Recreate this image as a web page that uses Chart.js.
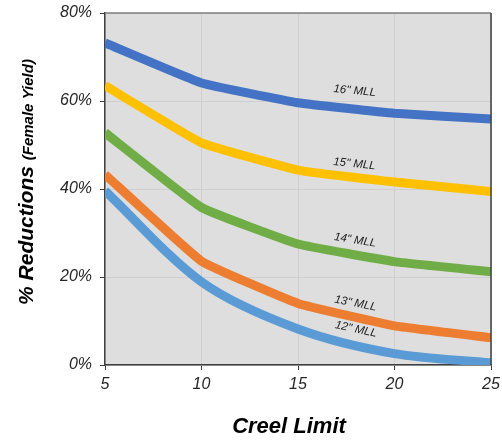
<!DOCTYPE html>
<html>
<head>
<meta charset="utf-8">
<script src="https://cdn.jsdelivr.net/npm/chart.js@4/dist/chart.umd.min.js"></script>
<style>
  html, body { margin: 0; padding: 0; background: #fff; }
  #chart { display: block; }
</style>
</head>
<body>
<canvas id="chart" width="502" height="441"></canvas>
<script>
// データ
const creelLimits = [5, 10, 15, 20, 25];
const mll16 = [73.2, 64.1, 59.6, 57.2, 55.9];
const mll15 = [63.5, 50.5, 44.3, 41.6, 39.4];
const mll14 = [52.8, 35.8, 27.5, 23.5, 21.2];
const mll13 = [43.3, 23.6, 14.0, 8.9, 6.2];
const mll12 = [39.6, 18.9, 8.2, 2.6, 0.5];
const yTicks = [0, 20, 40, 60, 80];

const FONT = '"Liberation Sans", Arial, sans-serif';

function toPoints(values) {
    return creelLimits.map((x, i) => ({ x: x, y: values[i] }));
}

// 系列設定
const seriesConfigs = [
    { label: '16" MLL', data: mll16, color: '#4472C4', tension: 0.1, labelOffset: 18 },
    { label: '15" MLL', data: mll15, color: '#FFC000', tension: 0.1, labelOffset: 13 },
    { label: '14" MLL', data: mll14, color: '#70AD47', tension: 0.1, labelOffset: 14 },
    { label: '13" MLL', data: mll13, color: '#ED7D31', tension: 0.1, labelOffset: 13 },
    { label: '12" MLL', data: mll12, color: '#5B9BD5', tension: 0.3, labelOffset: 14 }
];

// プロット背景と枠
const plotFrame = {
    id: 'plotFrame',
    beforeDraw(chart) {
        const a = chart.chartArea;
        const ctx = chart.ctx;
        ctx.save();
        ctx.fillStyle = '#DEDEDE';
        ctx.fillRect(a.left, a.top, a.right - a.left, a.bottom - a.top);
        ctx.restore();
    },
    afterDatasetsDraw(chart) {
        const a = chart.chartArea;
        const ctx = chart.ctx;
        ctx.save();
        ctx.strokeStyle = '#7F7F7F';
        ctx.lineWidth = 1.5;
        ctx.beginPath();
        ctx.moveTo(a.left, a.top);
        ctx.lineTo(a.right, a.top);
        ctx.stroke();
        ctx.strokeStyle = '#404040';
        ctx.beginPath();
        ctx.moveTo(a.right, a.top);
        ctx.lineTo(a.right, a.bottom);
        ctx.stroke();
        ctx.restore();
    }
};

// 系列ラベル（15と20の間）
const lineLabels = {
    id: 'lineLabels',
    afterDatasetsDraw(chart) {
        const ctx = chart.ctx;
        const xs = chart.scales.x;
        const ys = chart.scales.y;
        ctx.save();
        ctx.font = 'italic 11.5px ' + FONT;
        ctx.fillStyle = '#222';
        ctx.textAlign = 'center';
        ctx.textBaseline = 'middle';
        chart.data.datasets.forEach(ds => {
            const p0 = ds.data[2], p1 = ds.data[3];
            const x0 = xs.getPixelForValue(p0.x), y0 = ys.getPixelForValue(p0.y);
            const x1 = xs.getPixelForValue(p1.x), y1 = ys.getPixelForValue(p1.y);
            const t = 0.57;
            const px = x0 + (x1 - x0) * t;
            const py = y0 + (y1 - y0) * t;
            const ang = Math.atan2(y1 - y0, x1 - x0) * 0.85;
            ctx.save();
            ctx.translate(px + Math.sin(ang) * ds.labelOffset, py - Math.cos(ang) * ds.labelOffset);
            ctx.rotate(ang);
            ctx.fillText(ds.label, 0, 0);
            ctx.restore();
        });
        ctx.restore();
    }
};

// 軸タイトル
const axisTitles = {
    id: 'axisTitles',
    afterDraw(chart) {
        const ctx = chart.ctx;
        ctx.save();
        ctx.fillStyle = '#000';
        ctx.textBaseline = 'alphabetic';

        // X軸タイトル
        ctx.font = 'bold italic 22px ' + FONT;
        ctx.textAlign = 'center';
        ctx.fillText('Creel Limit', 289, 433);

        // Y軸タイトル
        const main = '% Reductions ';
        const sub = '(Female Yield)';
        const mainFont = 'bold italic 21px ' + FONT;
        const subFont = 'bold italic 15px ' + FONT;
        ctx.font = mainFont;
        const wMain = ctx.measureText(main).width;
        ctx.font = subFont;
        const wSub = ctx.measureText(sub).width;
        const total = wMain + wSub;
        ctx.translate(33, 182);
        ctx.rotate(-Math.PI / 2);
        ctx.textAlign = 'left';
        ctx.font = mainFont;
        ctx.fillText(main, -total / 2, 0);
        ctx.font = subFont;
        ctx.fillText(sub, -total / 2 + wMain, 0);
        ctx.restore();
    }
};

const chart = new Chart(document.getElementById('chart'), {
    type: 'line',
    data: {
        datasets: seriesConfigs.map(s => ({
            label: s.label,
            data: toPoints(s.data),
            borderColor: s.color,
            backgroundColor: s.color,
            borderWidth: 9,
            borderCapStyle: 'butt',
            borderJoinStyle: 'round',
            pointRadius: 0,
            fill: false,
            tension: s.tension,
            clip: 0,
            labelOffset: s.labelOffset
        }))
    },
    options: {
        responsive: false,
        animation: false,
        devicePixelRatio: 1,
        layout: { padding: { left: 0, right: 11, top: 13, bottom: 0 } },
        plugins: {
            legend: { display: false },
            tooltip: { enabled: false }
        },
        scales: {
            x: {
                type: 'linear',
                min: 5,
                max: 25,
                afterFit(scale) {
                    scale.height = 76;
                    scale.paddingLeft = 0;
                    scale.paddingRight = 0;
                },
                ticks: {
                    stepSize: 5,
                    padding: 5,
                    color: '#262626',
                    font: { family: FONT, size: 16, style: 'italic' }
                },
                grid: { color: '#CFCFCF', tickColor: '#404040', tickLength: 5, lineWidth: 1 },
                border: { color: '#404040', width: 1.5 }
            },
            y: {
                min: 0,
                max: 80,
                afterFit(scale) {
                    scale.width = 105;
                    scale.paddingTop = 0;
                    scale.paddingBottom = 0;
                },
                afterBuildTicks(scale) { scale.ticks = yTicks.map(v => ({ value: v })); },
                ticks: {
                    padding: 8,
                    color: '#262626',
                    font: { family: FONT, size: 16, style: 'italic' },
                    callback: v => v + '%'
                },
                grid: { color: '#CFCFCF', tickColor: '#404040', tickLength: 5, lineWidth: 1 },
                border: { color: '#404040', width: 1.5 }
            }
        }
    },
    plugins: [plotFrame, lineLabels, axisTitles]
});
</script>
</body>
</html>
